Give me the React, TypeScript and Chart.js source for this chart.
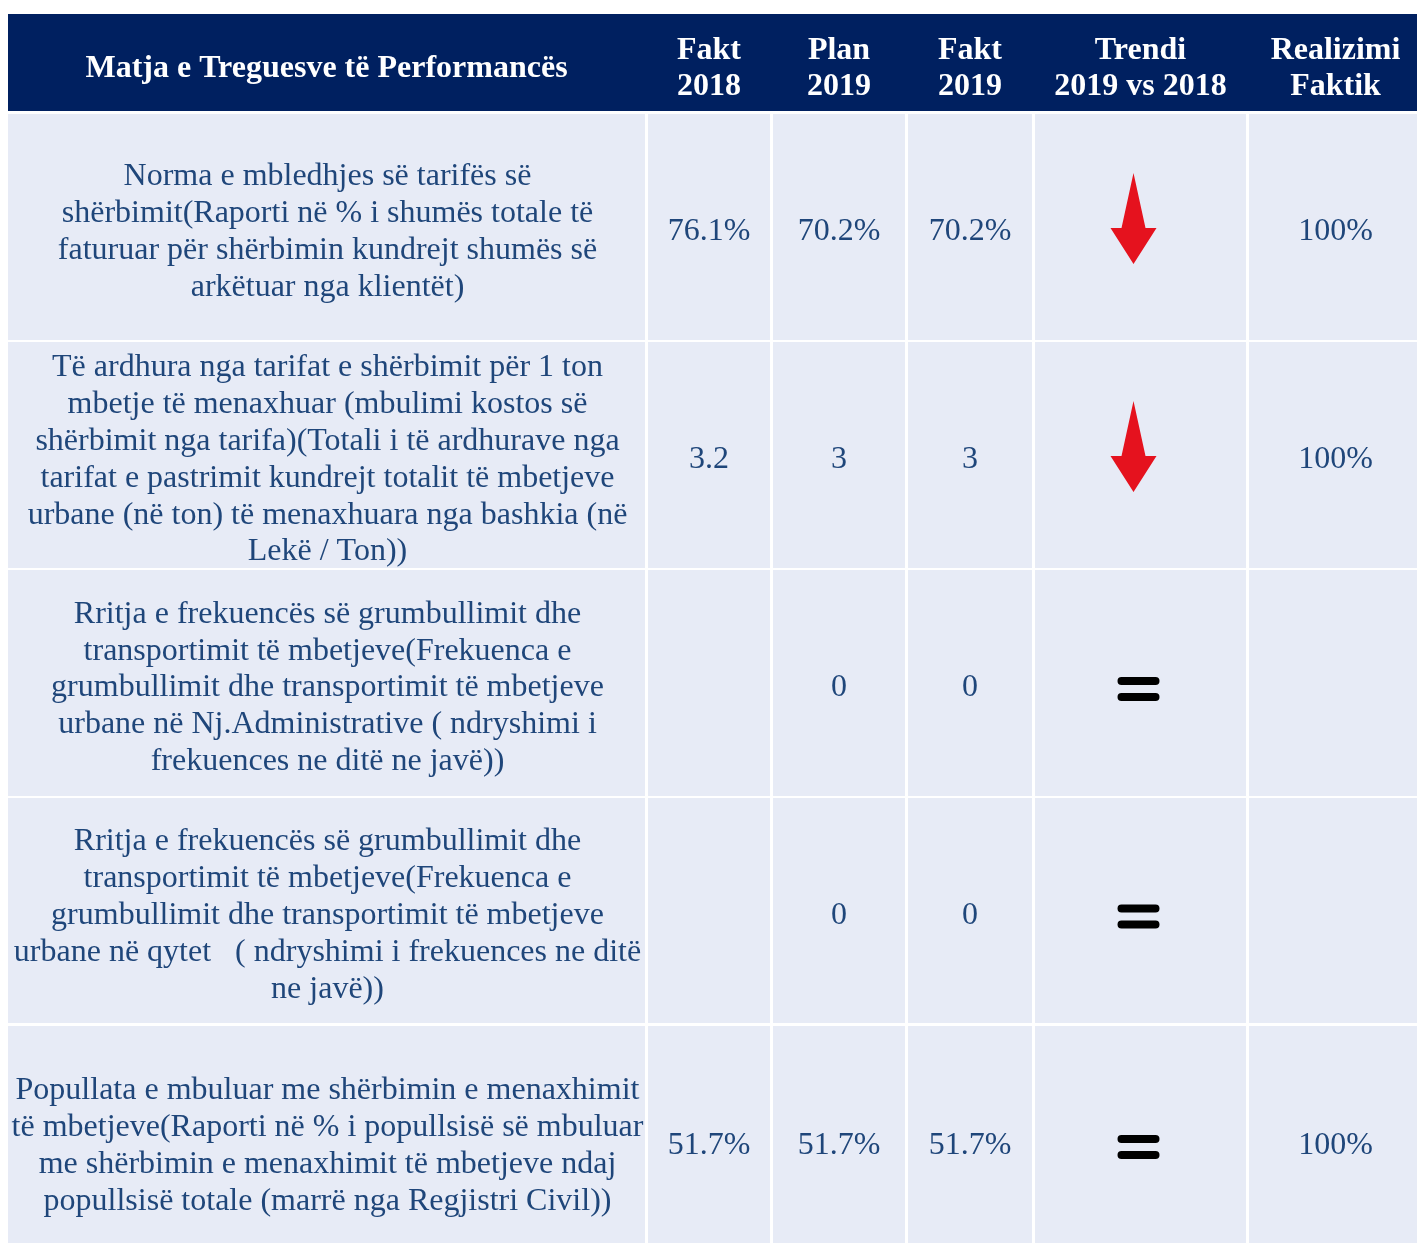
import React, { useEffect, useRef } from "react";
import { Chart, registerables } from "chart.js";

Chart.register(...registerables);

// ---- content ----
const headers: string[][] = [
  ["Matja e Treguesve të Performancës"],
  ["Fakt", "2018"],
  ["Plan", "2019"],
  ["Fakt", "2019"],
  ["Trendi", "2019 vs 2018"],
  ["Realizimi", "Faktik"],
];

const indicators: string[][] = [
  [
    "Norma e mbledhjes së tarifës së",
    "shërbimit(Raporti në % i shumës totale të",
    "faturuar për shërbimin kundrejt shumës së",
    "arkëtuar nga klientët)",
  ],
  [
    "Të ardhura nga tarifat e shërbimit për 1 ton",
    "mbetje të menaxhuar (mbulimi kostos së",
    "shërbimit nga tarifa)(Totali i të ardhurave nga",
    "tarifat e pastrimit kundrejt totalit të mbetjeve",
    "urbane (në ton) të menaxhuara nga bashkia (në",
    "Lekë / Ton))",
  ],
  [
    "Rritja e frekuencës së grumbullimit dhe",
    "transportimit të mbetjeve(Frekuenca e",
    "grumbullimit dhe transportimit të mbetjeve",
    "urbane në Nj.Administrative ( ndryshimi i",
    "frekuences ne ditë ne javë))",
  ],
  [
    "Rritja e frekuencës së grumbullimit dhe",
    "transportimit të mbetjeve(Frekuenca e",
    "grumbullimit dhe transportimit të mbetjeve",
    "urbane në qytet   ( ndryshimi i frekuences ne ditë",
    "ne javë))",
  ],
  [
    "Popullata e mbuluar me shërbimin e menaxhimit",
    "të mbetjeve(Raporti në % i popullsisë së mbuluar",
    "me shërbimin e menaxhimit të mbetjeve ndaj",
    "popullsisë totale (marrë nga Regjistri Civil))",
  ],
];

const fakt2018: string[] = ["76.1%", "3.2", "", "", "51.7%"];
const plan2019: string[] = ["70.2%", "3", "0", "0", "51.7%"];
const fakt2019: string[] = ["70.2%", "3", "0", "0", "51.7%"];
const trend: string[] = ["down", "down", "equal", "equal", "equal"];
const realizimi: string[] = ["100%", "100%", "", "", "100%"];

// ---- layout (page pixels) ----
const W = 1417;
const H = 1243;
const colSpans: number[][] = [
  [8, 645],
  [648, 770],
  [773, 905],
  [908, 1032],
  [1035, 1246],
  [1249, 1420],
];
const headerSpan = [14, 111];
const rowSpans: number[][] = [
  [114, 340],
  [342, 568],
  [570, 796],
  [798, 1023],
  [1026, 1256],
];

const HEADER_BG = "#002060";
const CELL_BG = "#E7EBF6";
const TEXT = "#1F467A";
const BODY_FONT = "32px 'Liberation Serif', 'Times New Roman', serif";
const HEAD_FONT = "bold 32px 'Liberation Serif', 'Times New Roman', serif";

const tablePlugin = {
  id: "tablePlugin",
  afterDraw(chart: any) {
    const ctx: CanvasRenderingContext2D = chart.ctx;
    const xs = chart.scales.x;
    const ys = chart.scales.y;
    const px = (v: number) => xs.getPixelForValue(v);
    const py = (v: number) => ys.getPixelForValue(v);

    ctx.save();
    // header
    const hy0 = py(headerSpan[0]);
    const hy1 = py(headerSpan[1]);
    ctx.fillStyle = HEADER_BG;
    ctx.fillRect(px(colSpans[0][0]), hy0, px(colSpans[5][1]) - px(colSpans[0][0]), hy1 - hy0);
    ctx.fillStyle = "#ffffff";
    ctx.font = HEAD_FONT;
    ctx.textAlign = "center";
    ctx.textBaseline = "middle";
    headers.forEach((lines, c) => {
      const cx = (px(colSpans[c][0]) + px(colSpans[c][1])) / 2 + (c === 5 ? 1 : 0);
      const cy = (hy0 + hy1) / 2;
      const lh = 36;
      lines.forEach((t, i) => {
        ctx.fillText(t, cx, cy + (i - (lines.length - 1) / 2) * lh + 6);
      });
    });

    // body cells
    const cols = [null, fakt2018, plan2019, fakt2019, null, realizimi];
    rowSpans.forEach((rs, r) => {
      const y0 = py(rs[0]);
      const y1 = py(rs[1]);
      const cy = (y0 + y1) / 2;
      colSpans.forEach((cs, c) => {
        const x0 = px(cs[0]);
        const x1 = px(cs[1]);
        ctx.fillStyle = CELL_BG;
        ctx.fillRect(x0, y0, x1 - x0, y1 - y0);
        const cx = (x0 + x1) / 2;
        ctx.fillStyle = TEXT;
        ctx.font = BODY_FONT;
        ctx.textAlign = "center";
        ctx.textBaseline = "middle";
        if (c === 0) {
          const lines = indicators[r];
          const lh = 36.8;
          lines.forEach((t, i) => {
            ctx.fillText(t, cx + 1, cy + (i - (lines.length - 1) / 2) * lh + 5);
          });
        } else if (c === 4) {
          if (trend[r] === "down") {
            const tc = cx - 7;
            const ay = cy - 8;
            const top = ay - 46;
            const head = ay + 9;
            const tip = ay + 45;
            ctx.fillStyle = "#E5121E";
            ctx.beginPath();
            ctx.moveTo(tc, top);
            ctx.lineTo(tc + 12, head);
            ctx.lineTo(tc + 23, head);
            ctx.lineTo(tc, tip);
            ctx.lineTo(tc - 23, head);
            ctx.lineTo(tc - 12, head);
            ctx.closePath();
            ctx.fill();
          } else if (trend[r] === "equal") {
            const tc = cx - 2;
            const ey = cy + 6;
            ctx.strokeStyle = "#000000";
            ctx.lineWidth = 8;
            ctx.lineCap = "round";
            ctx.beginPath();
            ctx.moveTo(tc - 17, ey - 8);
            ctx.lineTo(tc + 17, ey - 8);
            ctx.moveTo(tc - 17, ey + 8);
            ctx.lineTo(tc + 17, ey + 8);
            ctx.stroke();
          }
        } else {
          const arr = cols[c] as string[];
          const v = arr[r];
          if (v) ctx.fillText(v, cx + (c === 5 ? 1 : 0), cy + 5);
        }
      });
    });
    ctx.restore();
  },
};

export default function App() {
  const ref = useRef<HTMLCanvasElement | null>(null);
  useEffect(() => {
    if (!ref.current) return;
    const chart = new Chart(ref.current, {
      type: "scatter",
      data: { datasets: [{ data: [], pointRadius: 0 }] },
      options: {
        animation: false,
        responsive: true,
        maintainAspectRatio: false,
        devicePixelRatio: 1,
        layout: { padding: 0 },
        plugins: { legend: { display: false }, tooltip: { enabled: false } },
        scales: {
          x: { type: "linear", min: 0, max: W, display: false },
          y: { type: "linear", min: 0, max: H, reverse: true, display: false },
        },
      },
      plugins: [tablePlugin],
    });
    return () => chart.destroy();
  }, []);
  return (
    <div style={{ position: "fixed", left: 0, top: 0, width: W, height: H, background: "#ffffff" }}>
      <canvas ref={ref} />
    </div>
  );
}
